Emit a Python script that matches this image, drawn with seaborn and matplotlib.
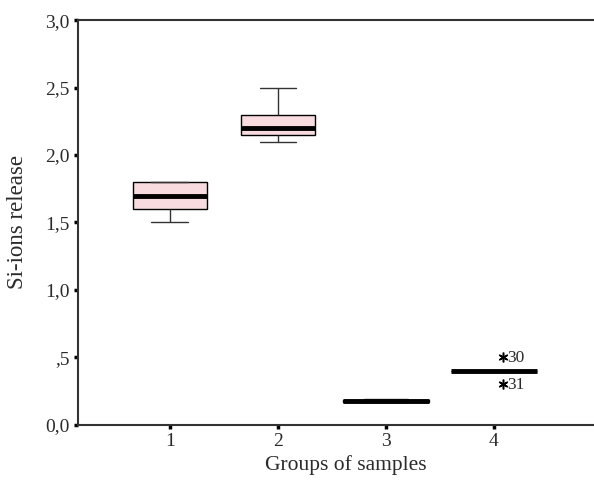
import numpy as np
import pandas as pd
import seaborn as sns
import matplotlib.pyplot as plt
from matplotlib.transforms import ScaledTranslation

# ---- data (8 samples per group) ----
groups = ["1", "2", "3", "4"]
group1 = [1.5, 1.6, 1.6, 1.7, 1.7, 1.8, 1.8, 1.8]
group2 = [2.1, 2.15, 2.15, 2.2, 2.2, 2.3, 2.3, 2.5]
group3 = [0.17, 0.17, 0.17, 0.18, 0.18, 0.18, 0.19, 0.19]
group4 = [0.3, 0.4, 0.4, 0.4, 0.4, 0.4, 0.4, 0.5]
outlier_ids = {0.5: "30", 0.3: "31"}

yticks = [0.0, 0.5, 1.0, 1.5, 2.0, 2.5, 3.0]
ytick_labels = ["0,0", ",5", "1,0", "1,5", "2,0", "2,5", "3,0"]

df = pd.DataFrame({
    "group": np.repeat(groups, 8),
    "value": group1 + group2 + group3 + group4,
})

sns.set_style("ticks")
plt.rcParams["font.family"] = ["Liberation Serif", "DejaVu Serif"]
txt_col = "#2b2b2b"

fig = plt.figure(figsize=(5.94, 4.8), dpi=100)
ax = fig.add_axes([0.131, 0.115, 0.869, 0.843])

box_kw = dict(
    x="group", y="value", order=groups, ax=ax,
    color="#fdd6da", linecolor="black", linewidth=1.0,
    medianprops=dict(color="black", linewidth=3.5),
    whiskerprops=dict(color="#333333", linewidth=1.0),
    capprops=dict(color="#333333", linewidth=1.0),
    flierprops=dict(marker=(6, 2, 0), markersize=7, markeredgecolor="black",
                    markeredgewidth=1.1),
    whis=1.5,
)
sns.boxplot(data=df[df["group"].isin(["1", "2"])], width=0.68, **box_kw)
sns.boxplot(data=df[df["group"].isin(["3", "4"])], width=0.8, **box_kw)

# shift the asterisks a little to the right, as in the original
shift = ScaledTranslation(9 / 100, 0, fig.dpi_scale_trans)
for ln in ax.lines:
    if ln.get_marker() not in ("", "None", None) and len(ln.get_xdata()) > 0:
        ln.set_transform(ln.get_transform() + shift)

for val, lab in outlier_ids.items():
    ax.annotate(lab, xy=(3, val), xytext=(13, -1), textcoords="offset pixels",
                ha="left", va="center", fontsize=12.5, color=txt_col)

ax.set_xlim(-0.852, 3.926)
ax.set_ylim(0, 3.0)
ax.set_yticks(yticks)
ax.set_yticklabels(ytick_labels)
ax.set_xlabel("Groups of samples", fontsize=15.5, color=txt_col)
ax.set_ylabel("Si-ions release", fontsize=16.5, color=txt_col)
ax.xaxis.set_label_coords(0.52, -0.075)
ax.yaxis.set_label_coords(-0.097, 0.5)

ax.tick_params(axis="both", labelsize=14, length=3, width=2.5,
               color="black", labelcolor=txt_col, direction="out", pad=3)
for side in ("left", "bottom", "top"):
    ax.spines[side].set_visible(True)
    ax.spines[side].set_color("#333333")
    ax.spines[side].set_linewidth(1.5)
ax.spines["right"].set_visible(False)

fig.savefig("out.png", dpi=100)
